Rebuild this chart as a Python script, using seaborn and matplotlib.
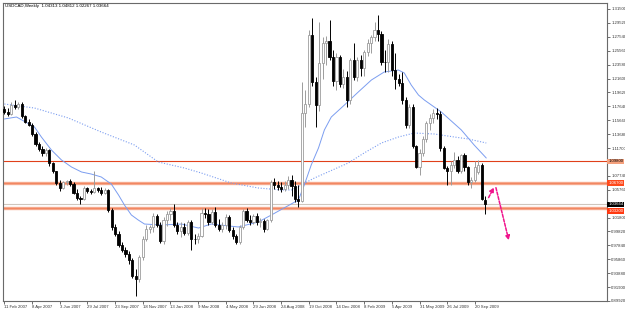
import numpy as np
import pandas as pd
import matplotlib
matplotlib.use("Agg")
import matplotlib.pyplot as plt
import seaborn as sns

# USDCAD weekly candles, 11 Feb 2007 .. 11 Oct 2009
opens = [
    1.1720, 1.1680, 1.1650, 1.1790, 1.1760, 1.1800, 1.1620, 1.1540, 1.1500, 1.1370,
    1.1230, 1.1160, 1.1100, 1.1140, 1.0950, 1.0840, 1.0670, 1.0600, 1.0680, 1.0700,
    1.0660, 1.0530, 1.0460, 1.0450, 1.0600, 1.0560, 1.0550, 1.0600, 1.0570, 1.0530,
    1.0570, 1.0290, 1.0040, 0.9950, 0.9790, 0.9720, 0.9660, 0.9570, 0.9350, 0.9300,
    0.9620, 0.9880, 1.0020, 1.0050, 1.0200, 1.0080, 0.9850, 1.0150, 1.0230, 1.0280,
    1.0080, 0.9990, 1.0050, 0.9960, 1.0120, 0.9880, 0.9870, 0.9920, 1.0250, 1.0230,
    1.0110, 1.0260, 1.0070, 1.0020, 1.0080, 1.0190, 1.0000, 0.9920, 0.9830, 1.0040,
    1.0270, 1.0150, 1.0120, 1.0200, 1.0110, 1.0130, 1.0020, 1.0140, 1.0680, 1.0640,
    1.0610, 1.0580, 1.0650, 1.0720, 1.0630, 1.0450, 1.0420, 1.1670, 1.1800, 1.2780,
    1.2110, 1.1780, 1.2380, 1.2670, 1.2700, 1.2470, 1.2130, 1.2460, 1.2080, 1.2180,
    1.1860, 1.2420, 1.2180, 1.2420, 1.2310, 1.2540, 1.2670, 1.2750, 1.2850, 1.2800,
    1.2400, 1.2390, 1.2650, 1.2280, 1.2160, 1.2100, 1.1850, 1.1500, 1.1750, 1.1200,
    1.0900, 1.1100, 1.1300, 1.1530, 1.1600, 1.1670, 1.1650, 1.1170, 1.0880, 1.0840,
    1.0930, 1.1000, 1.0840, 1.1070, 1.0900, 1.0690, 1.0720, 1.0830, 1.0930, 1.04313,
]
highs = [
    1.1770, 1.1740, 1.1820, 1.1850, 1.1830, 1.1820, 1.1640, 1.1580, 1.1530, 1.1400,
    1.1260, 1.1200, 1.1170, 1.1150, 1.0970, 1.0850, 1.0720, 1.0700, 1.0720, 1.0730,
    1.0680, 1.0580, 1.0490, 1.0630, 1.0620, 1.0590, 1.0840, 1.0620, 1.0620, 1.0600,
    1.0590, 1.0320, 1.0090, 0.9990, 0.9830, 0.9760, 0.9700, 0.9610, 0.9450, 0.9640,
    0.9920, 1.0070, 1.0080, 1.0250, 1.0230, 1.0110, 1.0190, 1.0280, 1.0320, 1.0380,
    1.0110, 1.0110, 1.0100, 1.0150, 1.0150, 0.9950, 0.9960, 1.0320, 1.0310, 1.0300,
    1.0300, 1.0330, 1.0160, 1.0120, 1.0230, 1.0220, 1.0040, 0.9950, 1.0070, 1.0300,
    1.0310, 1.0220, 1.0230, 1.0240, 1.0180, 1.0160, 1.0160, 1.0720, 1.0750, 1.0700,
    1.0680, 1.0700, 1.0770, 1.0780, 1.0700, 1.0650, 1.2110, 1.2000, 1.2850, 1.3020,
    1.2180, 1.2960, 1.2750, 1.2760, 1.2990, 1.2560, 1.2520, 1.2500, 1.2300, 1.2260,
    1.2450, 1.2670, 1.2460, 1.2500, 1.2560, 1.2720, 1.2780, 1.2965, 1.3065, 1.2830,
    1.2560, 1.2720, 1.2700, 1.2520, 1.2230, 1.2250, 1.1900, 1.1800, 1.1800, 1.1220,
    1.1150, 1.1340, 1.1560, 1.1650, 1.1720, 1.1740, 1.1700, 1.1200, 1.0920, 1.0980,
    1.1110, 1.1050, 1.1090, 1.1100, 1.0920, 1.0760, 1.0980, 1.1000, 1.0950, 1.04812,
]
lows = [
    1.1650, 1.1620, 1.1640, 1.1730, 1.1720, 1.1600, 1.1520, 1.1480, 1.1340, 1.1200,
    1.1130, 1.1060, 1.1050, 1.0920, 1.0810, 1.0640, 1.0560, 1.0580, 1.0640, 1.0630,
    1.0510, 1.0430, 1.0380, 1.0430, 1.0530, 1.0520, 1.0530, 1.0540, 1.0500, 1.0510,
    1.0260, 1.0000, 0.9920, 0.9760, 0.9690, 0.9620, 0.9520, 0.9320, 0.9070, 0.9260,
    0.9580, 0.9850, 0.9960, 0.9980, 1.0040, 0.9820, 0.9800, 1.0060, 1.0150, 1.0050,
    0.9940, 0.9900, 0.9930, 0.9930, 0.9720, 0.9800, 0.9820, 0.9900, 1.0180, 1.0080,
    1.0090, 1.0040, 0.9990, 0.9980, 1.0020, 0.9970, 0.9880, 0.9800, 0.9800, 1.0020,
    1.0120, 1.0080, 1.0090, 1.0070, 1.0050, 0.9970, 1.0000, 1.0110, 1.0580, 1.0570,
    1.0540, 1.0560, 1.0580, 1.0480, 1.0400, 1.0330, 1.0400, 1.1470, 1.1750, 1.2050,
    1.1470, 1.1700, 1.2150, 1.2350, 1.2420, 1.2060, 1.2000, 1.2040, 1.2030, 1.1750,
    1.1800, 1.2140, 1.2120, 1.2200, 1.2200, 1.2480, 1.2520, 1.2700, 1.2700, 1.2350,
    1.2250, 1.2250, 1.2200, 1.2010, 1.2050, 1.1800, 1.1450, 1.1450, 1.1170, 1.0880,
    1.0790, 1.1050, 1.1250, 1.1420, 1.1530, 1.1590, 1.1130, 1.0870, 1.0640, 1.0640,
    1.0880, 1.0820, 1.0820, 1.0850, 1.0650, 1.0600, 1.0690, 1.0800, 1.0430, 1.02267,
]
closes = [
    1.1680, 1.1650, 1.1790, 1.1760, 1.1800, 1.1620, 1.1540, 1.1500, 1.1370, 1.1230,
    1.1160, 1.1100, 1.1140, 1.0950, 1.0840, 1.0670, 1.0600, 1.0680, 1.0700, 1.0660,
    1.0530, 1.0460, 1.0450, 1.0600, 1.0560, 1.0550, 1.0600, 1.0570, 1.0530, 1.0570,
    1.0290, 1.0040, 0.9950, 0.9790, 0.9720, 0.9660, 0.9570, 0.9350, 0.9300, 0.9620,
    0.9880, 1.0020, 1.0050, 1.0200, 1.0080, 0.9850, 1.0150, 1.0230, 1.0280, 1.0080,
    0.9990, 1.0050, 0.9960, 1.0120, 0.9880, 0.9870, 0.9920, 1.0250, 1.0230, 1.0110,
    1.0260, 1.0070, 1.0020, 1.0080, 1.0190, 1.0000, 0.9920, 0.9830, 1.0040, 1.0270,
    1.0150, 1.0120, 1.0200, 1.0110, 1.0130, 1.0020, 1.0140, 1.0680, 1.0640, 1.0610,
    1.0580, 1.0650, 1.0720, 1.0630, 1.0450, 1.0420, 1.1670, 1.1800, 1.2780, 1.2110,
    1.1780, 1.2380, 1.2670, 1.2700, 1.2470, 1.2130, 1.2460, 1.2080, 1.2180, 1.1860,
    1.2420, 1.2180, 1.2420, 1.2310, 1.2540, 1.2670, 1.2750, 1.2850, 1.2800, 1.2400,
    1.2390, 1.2650, 1.2280, 1.2160, 1.2100, 1.1850, 1.1500, 1.1750, 1.1200, 1.0900,
    1.1100, 1.1300, 1.1530, 1.1600, 1.1670, 1.1650, 1.1170, 1.0880, 1.0840, 1.0930,
    1.1000, 1.0840, 1.1070, 1.0900, 1.0690, 1.0720, 1.0900, 1.0930, 1.0440, 1.03664,
]

# moving averages, sampled along the drawn curves (bar index, price)
ma_fast_pos = [0, 3.5, 8.7, 10.7, 13.6, 16.5, 19.4, 22.3, 25.1, 28, 30.9, 33, 34.7,
               36.7, 38.7, 40.5, 45.4, 51.2, 56.1, 59.8, 67.6, 73.4, 77.2, 82.9, 85,
               86.7, 88.7, 90.8, 92.5, 94.5, 98.3, 102.3, 106.1, 109.8, 113.9, 115.6,
               117.6, 119.7, 121.4, 126.3, 132.1, 135.8, 139.3]
ma_fast_val = [1.1584, 1.1612, 1.1470, 1.1327, 1.1142, 1.1000, 1.0900, 1.0829, 1.0800,
               1.0758, 1.0658, 1.0501, 1.0359, 1.0217, 1.0145, 1.0088, 1.0074, 1.0088,
               1.0031, 1.0088, 1.0046, 1.0117, 1.0217, 1.0373, 1.0430, 1.0644, 1.0929,
               1.1171, 1.1427, 1.1612, 1.1783, 1.1968, 1.2139, 1.2253, 1.2281, 1.2239,
               1.2068, 1.1925, 1.1854, 1.1683, 1.1427, 1.1213, 1.1028]
ma_slow_pos = [0, 8.7, 18.5, 28, 37.6, 44.5, 52, 56.9, 65.6, 73.4, 80, 83, 89.6, 99.4,
               104, 109, 113.9, 118.5, 124.3, 130.1, 134.1, 139.3]
ma_slow_val = [1.1797, 1.1740, 1.1598, 1.1398, 1.1213, 1.0971, 1.0886, 1.0815, 1.0672,
               1.0601, 1.0573, 1.0573, 1.0743, 1.0957, 1.1100, 1.1242, 1.1327, 1.1384,
               1.1370, 1.1327, 1.1299, 1.1242]

# horizontal levels and their price tags
level_prices = [1.09800, 1.06700, 1.03664, 1.03200]
level_labels = ["1.09800", "1.06700", "1.03664", "1.03200"]
# where each tag sits on the price scale (the last one slips under the bid tag)
tag_prices = [1.09800, 1.06700, 1.03664, 1.02780]

# projected move drawn by hand (bar index, price)
arrow_pos = [139.6, 141.9, 146.0]
arrow_val = [1.0430, 1.0644, 0.9818]

title = "USDCAD,Weekly  1.04313 1.04812 1.02267 1.03664"

dates = pd.date_range("2007-02-11", periods=len(closes), freq="7D")
df = pd.DataFrame({"idx": np.arange(len(closes)), "open": opens, "high": highs,
                   "low": lows, "close": closes})
df["bull"] = df["close"] >= df["open"]

sns.set_style("white")
plt.rcParams["font.family"] = ["Liberation Sans", "DejaVu Sans"]

fig = plt.figure(figsize=(6.25, 3.10), dpi=100)
ax = fig.add_axes([3 / 625, 9 / 310, 604 / 625, 298 / 310])

# levels behind the candles
ax.axhline(level_prices[0], color="#e0401a", lw=0.8, zorder=1)
for p in (level_prices[1], level_prices[3]):
    ax.axhline(p, color="#f6a88c", lw=2.4, zorder=1)
    ax.axhline(p, color="#f07a50", lw=0.5, zorder=1)
ax.axhline(level_prices[2], color="#cfc6bd", lw=0.8, zorder=1)

# moving averages
sns.lineplot(x=ma_slow_pos, y=ma_slow_val, ax=ax, color="#7b9df0", lw=0.8,
             linestyle=(0, (1, 1.5)), zorder=2)
sns.lineplot(x=ma_fast_pos, y=ma_fast_val, ax=ax, color="#7b9df0", lw=0.7, zorder=2)

# candles
up = df[df["bull"]]
dn = df[~df["bull"]]
w = 0.62
ax.vlines(up["idx"], up["low"], up["high"], color="#9c9c9c", lw=0.7, zorder=3)
ax.vlines(dn["idx"], dn["low"], dn["high"], color="black", lw=0.7, zorder=3)
ax.bar(up["idx"], (up["close"] - up["open"]).clip(lower=0.0008), bottom=up["open"],
       width=w, color="white", edgecolor="#9c9c9c", lw=0.6, zorder=4)
ax.bar(dn["idx"], (dn["open"] - dn["close"]).clip(lower=0.0008), bottom=dn["close"],
       width=w, color="black", edgecolor="black", lw=0.6, zorder=4)

# dashed pink projection
for a, b in ((0, 1), (1, 2)):
    ax.annotate("", xy=(arrow_pos[b], arrow_val[b]), xytext=(arrow_pos[a], arrow_val[a]),
                arrowprops=dict(arrowstyle="-|>", color="#f0148c", lw=1.1,
                                linestyle=(0, (2, 1)), mutation_scale=6), zorder=5)

ax.set_xlim(-0.4, 174.2)
ax.set_ylim(0.89919, 1.32354)

# axes, MT4 style; tick labels hidden under a price tag are left out
yt = np.round(1.315 - 0.0198 * np.arange(22), 5)
ax.yaxis.tick_right()
ax.set_yticks(yt)
ylabs = []
for v in yt:
    covered = any(abs(v - t) < 0.0075 for t in tag_prices)
    ylabs.append("" if covered else f"{v:.5f}")
ax.set_yticklabels(ylabs)
xt = list(range(0, len(closes), 8))
ax.set_xticks(xt)
ax.set_xticklabels([f"{dates[i].day} {dates[i].strftime('%b %Y')}" for i in xt], ha="left")
ax.tick_params(axis="both", labelsize=3.1, length=2, width=0.5, pad=1,
               colors="#333333", direction="out")
ax.tick_params(axis="y", right=True, left=False)
ax.tick_params(axis="x", bottom=True)
for s in ax.spines.values():
    s.set_color("#6a6a6a")
    s.set_linewidth(0.8)
ax.set_xlabel("")
ax.set_ylabel("")

ax.text(0.003, 0.997, title, transform=ax.transAxes, va="top", ha="left",
        fontsize=3.2, color="black")

# price tags on the right edge
tags = [("#f4a07c", "black"), ("#ff4a1c", "white"), ("black", "white"), ("#ff3a12", "white")]
for k in [3, 0, 1, 2]:
    fc, tc = tags[k]
    ax.text(1.002, tag_prices[k], level_labels[k], transform=ax.get_yaxis_transform(),
            fontsize=3.1, color=tc, va="center", ha="left", zorder=6 + k,
            bbox=dict(boxstyle="square,pad=0.2", fc=fc, ec="none"), clip_on=False)

fig.savefig("out.png", dpi=100)
